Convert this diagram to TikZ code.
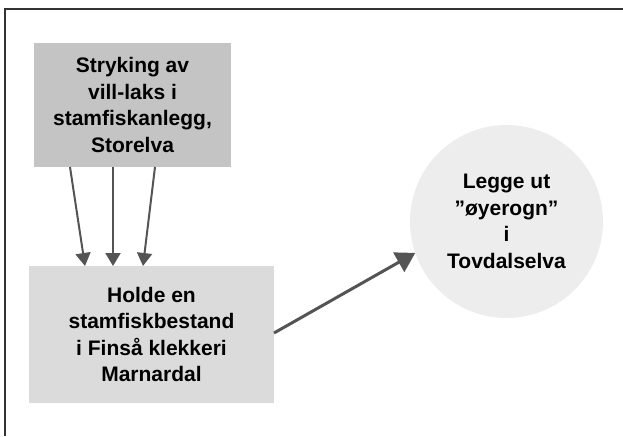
\documentclass[tikz,border=0pt]{standalone}
\usepackage{fontspec}
\setmainfont{Liberation Sans}
\usepackage{xcolor}
\usetikzlibrary{arrows.meta}
\definecolor{boxdark}{gray}{0.77}
\definecolor{boxlight}{gray}{0.86}
\definecolor{circlegray}{gray}{0.93}
\definecolor{arrowgray}{gray}{0.33}
\tikzset{
	tekst/.style={font=\fontsize{21}{26.5}\selectfont\bfseries, align=center, inner sep=0pt, outer sep=0pt},
	pil/.style={draw=arrowgray, line width=2pt, -{Triangle[length=13pt,width=15pt]}},
	storpil/.style={draw=arrowgray, line width=3pt, -{Triangle[length=19pt,width=22pt]}}
}
\begin{document}
\begin{tikzpicture}[x=1pt,y=-1pt]
	\useasboundingbox (0,0) rectangle (623,436);
	\draw[line width=1.5pt, black!80] (623,9) -- (5,9) -- (5,436);
	\node[tekst, fill=boxdark, minimum width=197pt, minimum height=124pt] (stryking) at (132.5,105) {Stryking av\\vill-laks i\\stamfiskanlegg,\\Storelva};
	\node[tekst, fill=boxlight, minimum width=245pt, minimum height=137pt] (holde) at (151.5,334.5) {Holde en\\stamfiskbestand\\i Finså klekkeri\\Marnardal};
	\node[tekst, circle, fill=circlegray, minimum size=193pt] (legge) at (506.5,221.5) {Legge ut\\”øyerogn”\\i\\Tovdalselva};
	\draw[pil] ([xshift=-62.5pt]stryking.south) -- ([xshift=-66.5pt]holde.north);
	\draw[pil] ([xshift=-19.5pt]stryking.south) -- ([xshift=-38.5pt]holde.north);
	\draw[pil] ([xshift=22.5pt]stryking.south) -- ([xshift=-8.5pt]holde.north);
	\draw[storpil] ([yshift=1.5pt]holde.east) -- (legge.199);
\end{tikzpicture}
\end{document}
